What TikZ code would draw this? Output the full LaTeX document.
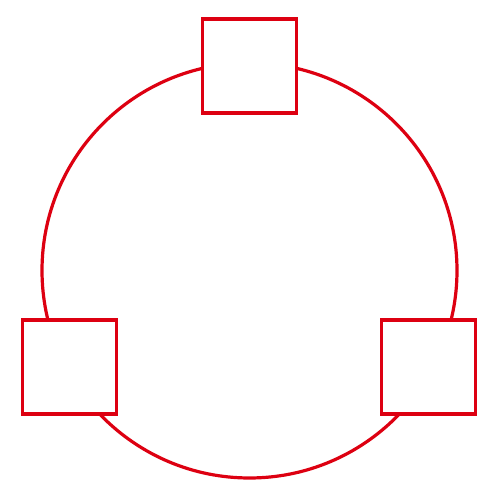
\documentclass[tikz,border=0pt]{standalone}
\definecolor{myred}{RGB}{221,0,17}
\begin{document}
\begin{tikzpicture}[x=1pt,y=1pt,
  ring/.style={circle,draw=myred,line width=3.2pt,minimum size=415pt,inner sep=0pt},
  box/.style={draw=myred,fill=white,line width=3.2pt,minimum width=94pt,minimum height=94pt,inner sep=0pt,outer sep=0pt}]
\useasboundingbox (0,0) rectangle (500,500);
\node[ring] (ring) at (249.5,229.5) {};
\node[box] (top) at (249.5,434) {};
\node[box] (left) at (69.5,133) {};
\node[box] (right) at (428.5,133) {};
\end{tikzpicture}
\end{document}
